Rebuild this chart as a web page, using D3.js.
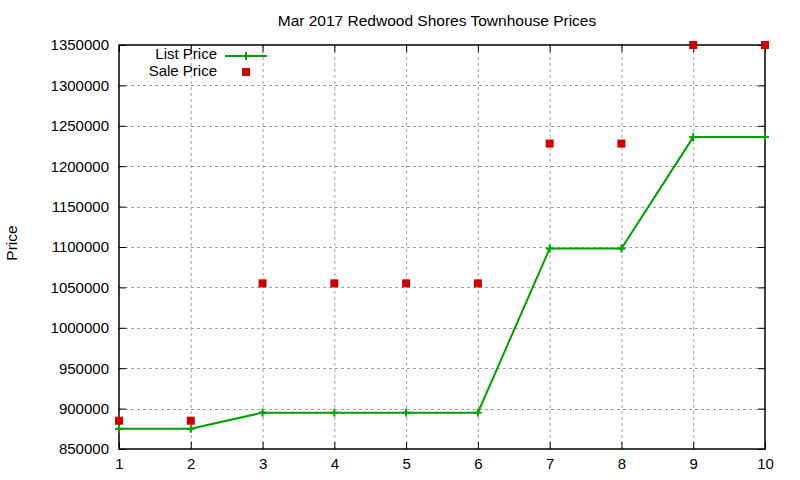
<!DOCTYPE html>
<html>
<head>
<meta charset="utf-8">
<script src="https://cdn.jsdelivr.net/npm/d3@7"></script>
<style>
  body { margin: 0; background: #fff; }
  text { font-family: "Liberation Sans", Arial, sans-serif; fill: #000; }
</style>
</head>
<body>
<div id="chart"></div>
<script>
const houses = [1, 2, 3, 4, 5, 6, 7, 8, 9, 10];
const listPrice = [875000, 875000, 895000, 895000, 895000, 895000, 1098000, 1098000, 1236000, 1236000];
const salePrice = [885000, 885000, 1055000, 1055000, 1055000, 1055000, 1228000, 1228000, 1350000, 1350000];
const yTicks = [850000, 900000, 950000, 1000000, 1050000, 1100000, 1150000, 1200000, 1250000, 1300000, 1350000];

const width = 800;
const height = 480;
const margin = { top: 45, right: 35, bottom: 31, left: 119 };

const svg = d3.select("#chart")
    .append("svg")
    .attr("width", width)
    .attr("height", height);

const x = d3.scaleLinear()
    .domain([1, 10])
    .range([margin.left, width - margin.right]);

const y = d3.scaleLinear()
    .domain([850000, 1350000])
    .range([height - margin.bottom, margin.top]);

// grid
const grid = svg.append("g")
    .attr("stroke", "#a0a0a0")
    .attr("stroke-dasharray", "3,3")
    .attr("stroke-width", 1);

grid.selectAll("line.gx")
    .data(houses.slice(1, -1))
    .enter()
    .append("line")
    .attr("x1", (d) => x(d) + 0.5)
    .attr("x2", (d) => x(d) + 0.5)
    .attr("y1", margin.top)
    .attr("y2", height - margin.bottom);

grid.selectAll("line.gy")
    .data(yTicks.slice(1, -1))
    .enter()
    .append("line")
    .attr("x1", margin.left)
    .attr("x2", width - margin.right)
    .attr("y1", (d) => Math.round(y(d)) + 0.5)
    .attr("y2", (d) => Math.round(y(d)) + 0.5);

// axes, gnuplot style: inward ticks, mirrored
const fmt = d3.format("d");
const axisFont = (g) => g.selectAll("text")
    .style("font-size", "15px")
    .style("font-family", "'Liberation Sans', Arial, sans-serif");

svg.append("g")
    .attr("transform", `translate(0,${height - margin.bottom})`)
    .call(d3.axisBottom(x).tickValues(houses).tickFormat(fmt).tickSizeInner(-7).tickSizeOuter(0).tickPadding(9))
    .call(axisFont)
    .call((g) => g.select(".domain").remove());

svg.append("g")
    .attr("transform", `translate(0,${margin.top})`)
    .call(d3.axisTop(x).tickValues(houses).tickFormat("").tickSizeInner(-7).tickSizeOuter(0))
    .call((g) => g.select(".domain").remove());

svg.append("g")
    .attr("transform", `translate(${margin.left},0)`)
    .call(d3.axisLeft(y).tickValues(yTicks).tickFormat(fmt).tickSizeInner(-7).tickSizeOuter(0).tickPadding(10))
    .call(axisFont)
    .call((g) => g.select(".domain").remove());

svg.append("g")
    .attr("transform", `translate(${width - margin.right},0)`)
    .call(d3.axisRight(y).tickValues(yTicks).tickFormat("").tickSizeInner(-7).tickSizeOuter(0))
    .call((g) => g.select(".domain").remove());

svg.append("rect")
    .attr("x", margin.left)
    .attr("y", margin.top)
    .attr("width", width - margin.left - margin.right)
    .attr("height", height - margin.top - margin.bottom)
    .attr("fill", "none")
    .attr("stroke", "#000")
    .attr("stroke-width", 1.5);

// list price line
const green = "#00a000";
const line = d3.line()
    .x((d, i) => x(houses[i]))
    .y((d) => y(d));

svg.append("path")
    .datum(listPrice)
    .attr("d", line)
    .attr("fill", "none")
    .attr("stroke", green)
    .attr("stroke-width", 2);

const plus = (g, cx, cy) => {
    g.append("line").attr("x1", cx - 4).attr("x2", cx + 4).attr("y1", cy).attr("y2", cy);
    g.append("line").attr("x1", cx).attr("x2", cx).attr("y1", cy - 4).attr("y2", cy + 4);
};

const marks = svg.append("g").attr("stroke", green).attr("stroke-width", 2);
listPrice.forEach((d, i) => plus(marks, x(houses[i]), y(d)));

// sale price points
svg.append("g")
    .selectAll("rect")
    .data(salePrice)
    .enter()
    .append("rect")
    .attr("x", (d, i) => x(houses[i]) - 4)
    .attr("y", (d) => y(d) - 4)
    .attr("width", 8)
    .attr("height", 8)
    .attr("fill", "#cc0000");

// legend
const legend = svg.append("g");
legend.append("text")
    .attr("x", 217)
    .attr("y", 59)
    .attr("text-anchor", "end")
    .style("font-size", "15px")
    .text("List Price");
legend.append("line")
    .attr("x1", 225).attr("x2", 267)
    .attr("y1", 56).attr("y2", 56)
    .attr("stroke", green).attr("stroke-width", 2);
plus(legend.append("g").attr("stroke", green).attr("stroke-width", 2), 246, 56);

legend.append("text")
    .attr("x", 217)
    .attr("y", 76)
    .attr("text-anchor", "end")
    .style("font-size", "15px")
    .text("Sale Price");
legend.append("rect")
    .attr("x", 242).attr("y", 68)
    .attr("width", 8).attr("height", 8)
    .attr("fill", "#cc0000");

// title and axis label
svg.append("text")
    .attr("x", 437)
    .attr("y", 26)
    .attr("text-anchor", "middle")
    .style("font-size", "15.5px")
    .text("Mar 2017 Redwood Shores Townhouse Prices");

svg.append("text")
    .attr("transform", `translate(17,243) rotate(-90)`)
    .attr("text-anchor", "middle")
    .style("font-size", "15.5px")
    .text("Price");
</script>
</body>
</html>
